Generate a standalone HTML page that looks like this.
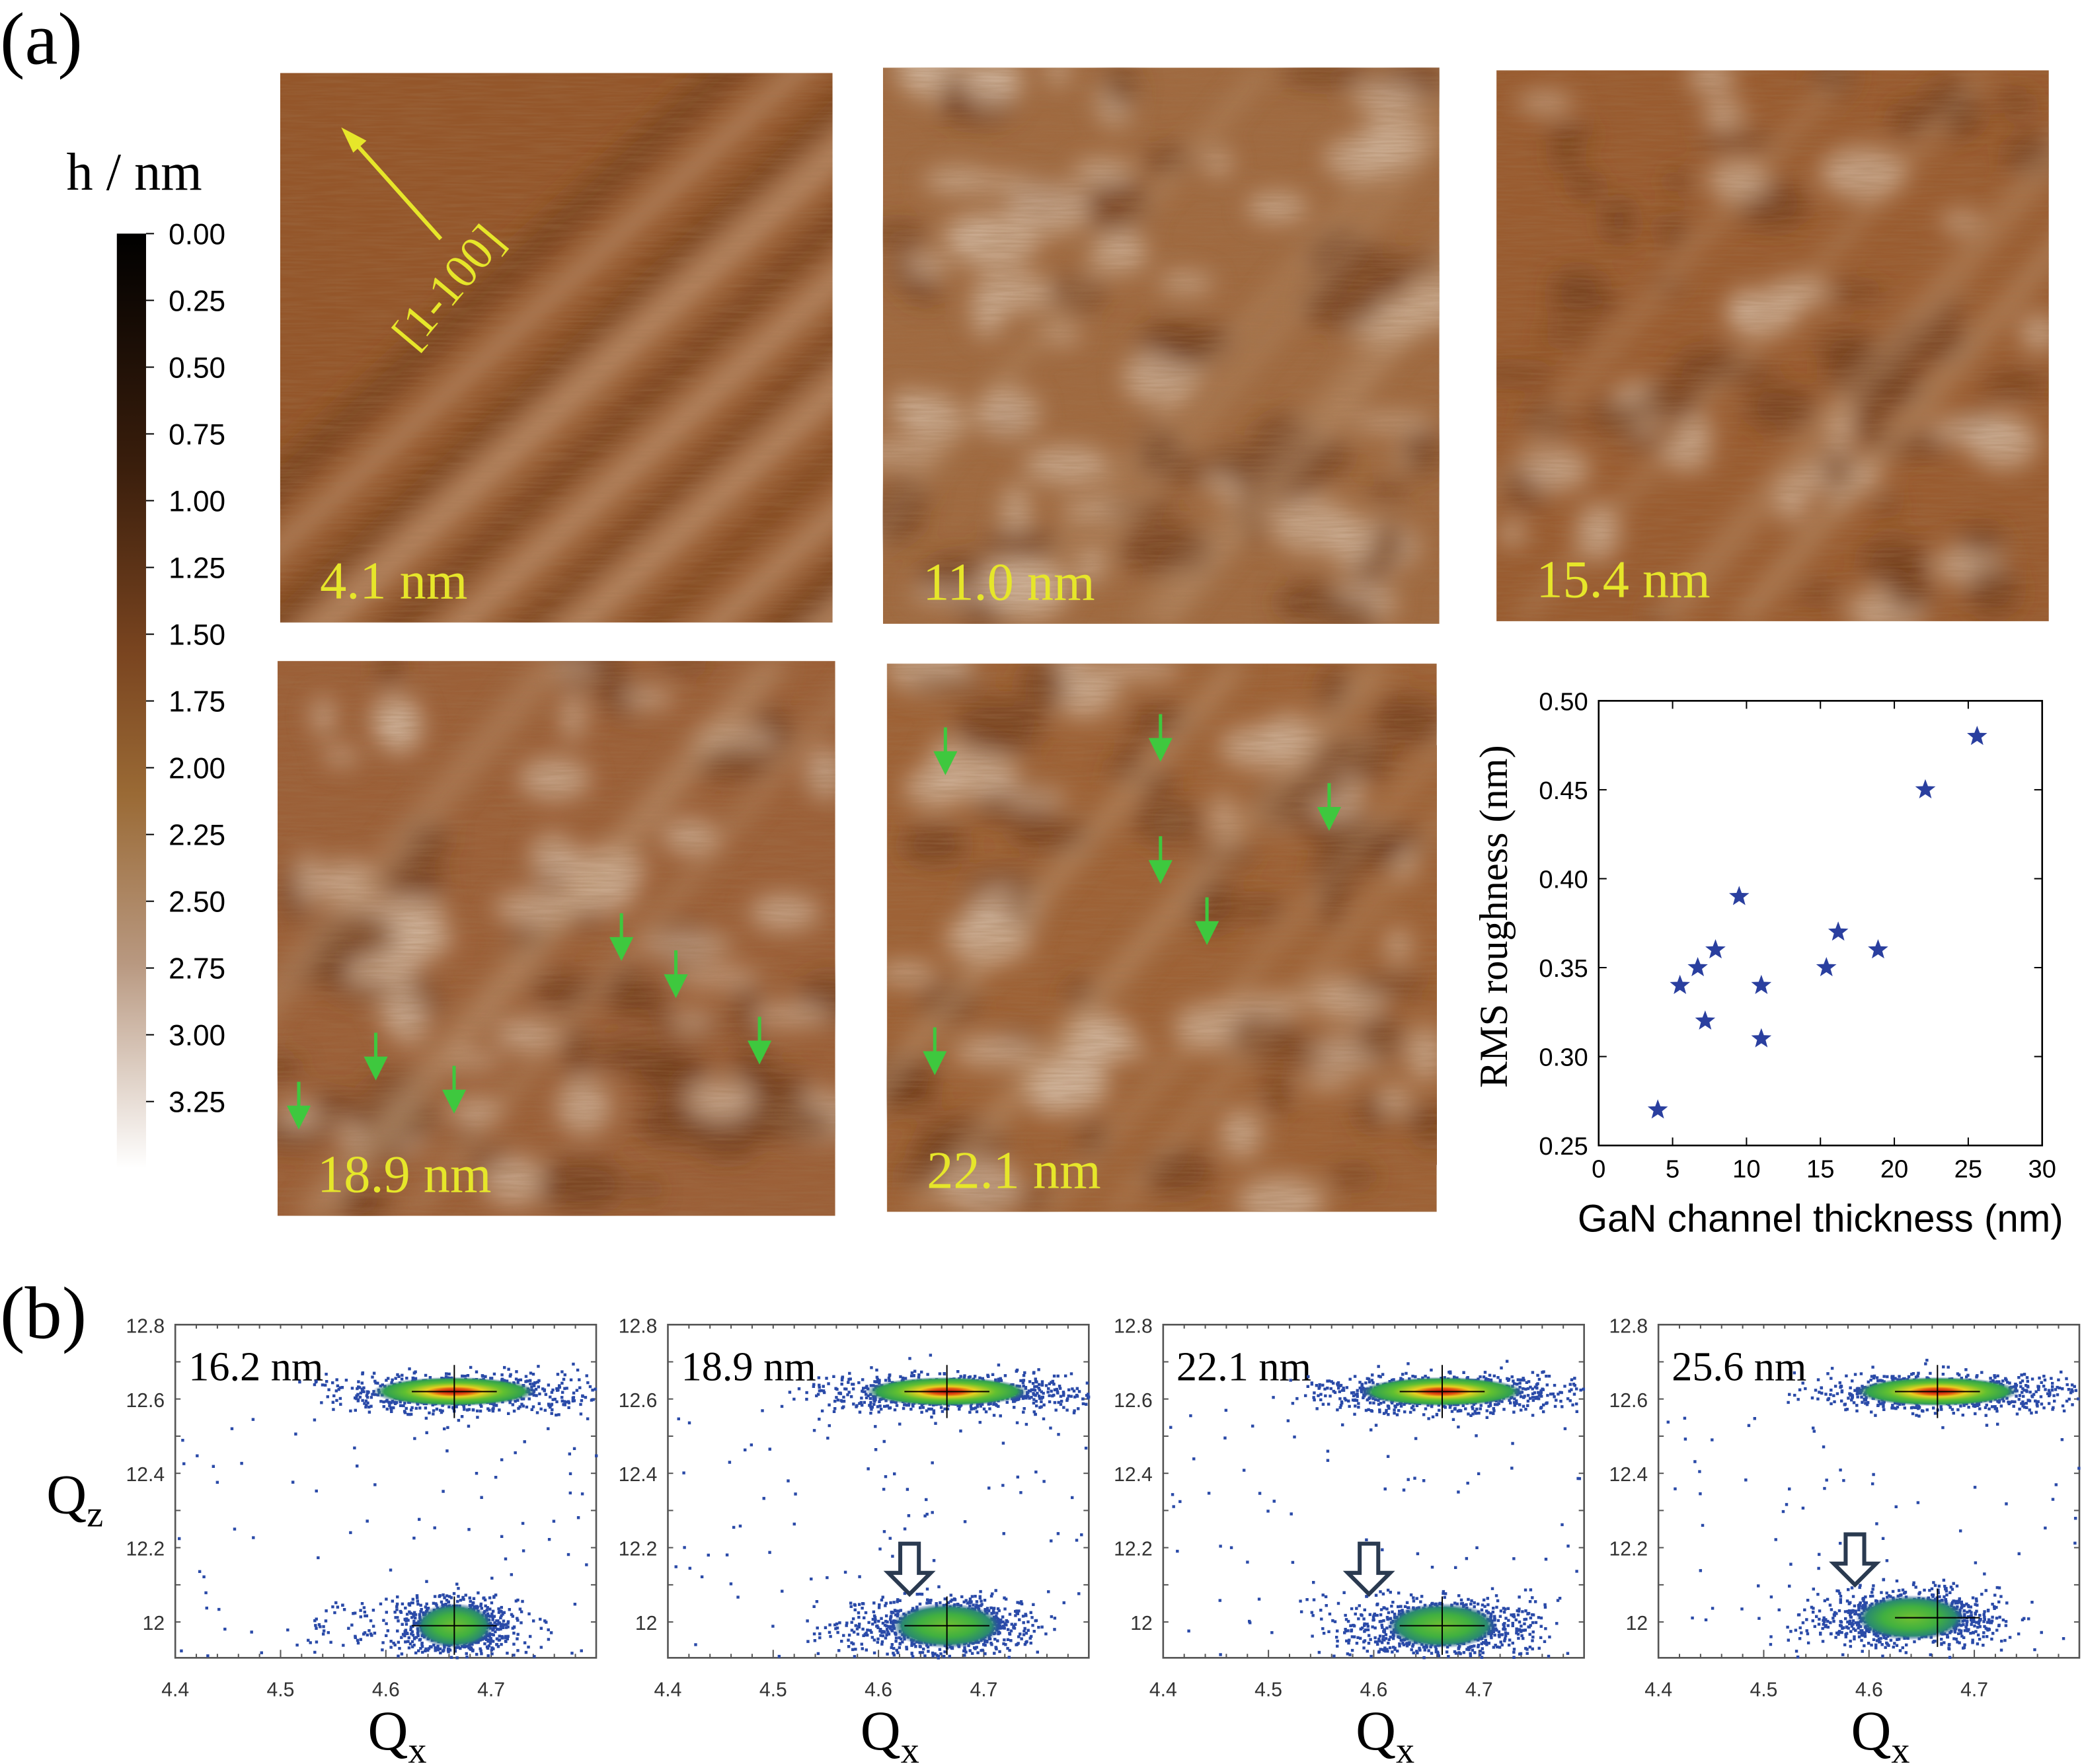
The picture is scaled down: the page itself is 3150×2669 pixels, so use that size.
<!DOCTYPE html>
<html><head><meta charset="utf-8"><style>
html,body{margin:0;padding:0;background:#fff}
svg{display:block}
.sf{font-family:"Liberation Serif",serif}
.ss{font-family:"Liberation Sans",sans-serif}
</style></head><body>
<svg id="s" width="3150" height="2669" viewBox="0 0 1568 1329" preserveAspectRatio="none" xmlns="http://www.w3.org/2000/svg">
<defs>
<linearGradient id="cb" x1="0" y1="0" x2="0" y2="1">
<stop offset="0" stop-color="#000"/><stop offset="0.25" stop-color="#3a1e0c"/><stop offset="0.45" stop-color="#7a4520"/><stop offset="0.6" stop-color="#9a6a35"/><stop offset="0.78" stop-color="#b89880"/><stop offset="1" stop-color="#fff"/>
</linearGradient>
<filter id="blur" x="-20%" y="-20%" width="140%" height="140%"><feGaussianBlur stdDeviation="9"/></filter>
<filter id="nz"><feTurbulence type="fractalNoise" baseFrequency="0.03 0.6" numOctaves="2" seed="3"/><feColorMatrix values="0 0 0 0 0.35  0 0 0 0 0.18  0 0 0 0 0.08  0 0 0 1.1 -0.35"/></filter>
<radialGradient id="pk" cx="0.5" cy="0.5" r="0.5">
<stop offset="0" stop-color="#c01010"/><stop offset="0.2" stop-color="#e05010"/><stop offset="0.35" stop-color="#e8d020"/><stop offset="0.6" stop-color="#60c030"/><stop offset="0.85" stop-color="#30a050"/><stop offset="1" stop-color="#3050a0" stop-opacity="0"/>
</radialGradient>
<radialGradient id="pk2" cx="0.5" cy="0.5" r="0.5">
<stop offset="0" stop-color="#70c030"/><stop offset="0.5" stop-color="#40b040"/><stop offset="0.8" stop-color="#2a8a70"/><stop offset="1" stop-color="#2040a0" stop-opacity="0"/>
</radialGradient>
<clipPath id="c1"><rect x="211" y="55" width="416" height="414"/></clipPath>
<clipPath id="c2"><rect x="665" y="51" width="419" height="419"/></clipPath>
<clipPath id="c3"><rect x="1127" y="53" width="416" height="415"/></clipPath>
<clipPath id="c4"><rect x="209" y="498" width="420" height="418"/></clipPath>
<clipPath id="c5"><rect x="668" y="500" width="414" height="413"/></clipPath>
</defs>
<g id="afm"></g>
<g id="rest"></g>
<text class="sf" x="0" y="48" font-size="56">(a)</text>
<text class="sf" x="0" y="1008" font-size="56">(b)</text>
<text class="sf" x="50" y="143" font-size="40">h / nm</text>
<rect x="88" y="176" width="22" height="704" fill="url(#cb)"/>
<g id="cbl" class="ss" font-size="22"></g>
</svg>
<script>
const S=document.getElementById('s'),NS='http://www.w3.org/2000/svg';
function el(t,a,p,txt){const e=document.createElementNS(NS,t);for(const k in a)e.setAttribute(k,a[k]);if(txt!=null)e.textContent=txt;(p||S).appendChild(e);return e;}
let seed=7;function R(){seed=(seed*16807)%2147483647;return seed/2147483647;}
function G(){return (R()+R()+R()-1.5)*1.4;}
const cbl=document.getElementById('cbl');
for(let i=0;i<14;i++){const y=176+i*50.3;el('line',{x1:110,y1:y,x2:116,y2:y,stroke:'#000','stroke-width':1},cbl);
el('text',{x:127,y:y+8},cbl,(i*0.25).toFixed(2));}
const A=document.getElementById('afm');
const P=[[211,55,416,414,'4.1 nm',1],[665,51,419,419,'11.0 nm',2],[1127,53,416,415,'15.4 nm',3],[209,498,420,418,'18.9 nm',4],[668,500,414,413,'22.1 nm',5]];
const bases=['#94562a','#a06a40','#9a5c30','#9c6038','#9e6236'];
P.forEach(([x,y,w,h,lab,n],i)=>{
 const g=el('g',{'clip-path':'url(#c'+n+')'},A);
 el('rect',{x,y,width:w,height:h,fill:bases[i]},g);
 const bg=el('g',{filter:'url(#blur)'},g);
 if(n==1){for(let k=0;k<14;k++){const o=k*48-160+R()*20;
   el('line',{x1:x+o,y1:y+h+40,x2:x+o+h*1.3,y2:y-40,stroke:k%2?'#c29a78':'#73401c','stroke-width':10+R()*16,opacity:0.75},bg);}}
 else{const nb=n==3?70:90;for(let k=0;k<nb;k++){const light=R()<(n==3?0.35:0.5);
   el('ellipse',{cx:x+R()*w,cy:y+R()*h,rx:8+R()*26,ry:6+R()*16,fill:light?'#d4baa4':'#6e3a18',opacity:0.7},bg);}
   for(let k=0;k<6;k++){const o=R()*w;el('line',{x1:x+o-150,y1:y+h,x2:x+o+200,y2:y,stroke:'#c8a888','stroke-width':8,opacity:0.45},bg);}}
 el('rect',{x,y,width:w,height:h,filter:'url(#nz)',opacity:0.55},g);
 el('text',{x:x+30,y:y+h-18,'font-size':40,fill:'#e6e62a','class':'sf'},S,lab);
});
el('line',{x1:332,y1:180,x2:265,y2:105,stroke:'#e6e62a','stroke-width':3});
el('polygon',{points:'257,96 276,106 266,115',fill:'#e6e62a'});
el('text',{x:0,y:0,'font-size':36,fill:'#e6e62a','class':'sf',transform:'translate(312,265) rotate(-50)'},S,'[1-100]');
const ga=[[225,815],[283,778],[342,803],[468,688],[509,716],[572,766],[712,548],[874,538],[1001,590],[874,630],[909,676],[704,774]];
ga.forEach(([x,y])=>{el('line',{x1:x,y1:y,x2:x,y2:y+26,stroke:'#3ec83e','stroke-width':2.5});el('polygon',{points:`${x-9},${y+18} ${x+9},${y+18} ${x},${y+36}`,fill:'#3ec83e'});});
const X0=1204,X1=1538,Y0=528,Y1=863;
el('rect',{x:X0,y:Y0,width:X1-X0,height:Y1-Y0,fill:'none',stroke:'#000','stroke-width':1.3});
const sx=t=>X0+t/30*(X1-X0),sy=v=>Y1-(v-0.25)/0.25*(Y1-Y0);
for(let t=0;t<=30;t+=5){el('line',{x1:sx(t),y1:Y1,x2:sx(t),y2:Y1-6,stroke:'#000'});el('line',{x1:sx(t),y1:Y0,x2:sx(t),y2:Y0+6,stroke:'#000'});
 el('text',{x:sx(t),y:Y1+24,'font-size':19,'text-anchor':'middle','class':'ss'},S,t);}
for(let v=0.25;v<0.501;v+=0.05){el('line',{x1:X0,y1:sy(v),x2:X0+6,y2:sy(v),stroke:'#000'});el('line',{x1:X1,y1:sy(v),x2:X1-6,y2:sy(v),stroke:'#000'});
 el('text',{x:X0-8,y:sy(v)+7,'font-size':19,'text-anchor':'end','class':'ss'},S,v.toFixed(2));}
el('text',{x:0,y:0,'font-size':30,'text-anchor':'middle','class':'sf',transform:`translate(1135,${(Y0+Y1)/2-5}) rotate(-90)`},S,'RMS roughness  (nm)');
el('text',{x:1371,y:928,'font-size':29,'text-anchor':'middle','class':'ss'},S,'GaN channel thickness  (nm)');
function star(cx,cy,r){let p=[];for(let k=0;k<10;k++){const a=-Math.PI/2+k*Math.PI/5,rr=k%2?r*0.42:r;p.push((cx+rr*Math.cos(a)).toFixed(1)+','+(cy+rr*Math.sin(a)).toFixed(1));}return p.join(' ');}
[[4,0.27],[5.5,0.34],[6.7,0.35],[7.2,0.32],[7.9,0.36],[9.5,0.39],[11,0.34],[11,0.31],[15.4,0.35],[16.2,0.37],[18.9,0.36],[22.1,0.45],[25.6,0.48]].forEach(([t,v])=>el('polygon',{points:star(sx(t),sy(v),8),fill:'#2a3f9f'}));
const rx=[132,503,876,1249],labs=['16.2 nm','18.9 nm','22.1 nm','25.6 nm'];
const qz0=el('text',{x:35,y:1140,'font-size':42,'class':'sf'},S,'Q');el('tspan',{'font-size':28,dy:10},qz0,'z');
rx.forEach((x0,i)=>{
 const w=317,yt=998,yb=1249,qx=q=>x0+(q-4.4)*793,qz=q=>1222-(q-12)*280;
 el('rect',{x:x0,y:yt,width:w,height:yb-yt,fill:'none',stroke:'#555','stroke-width':1.3});
 for(let q=4.4;q<4.81;q+=0.02){const px=qx(q);if(px>x0+w)break;el('line',{x1:px,y1:yb,x2:px,y2:yb-(Math.round(q*100)%10==0?6:3),stroke:'#555'});el('line',{x1:px,y1:yt,x2:px,y2:yt+3,stroke:'#555'});}
 [4.4,4.5,4.6,4.7].forEach(q=>el('text',{x:qx(q),y:1278,'font-size':15,'text-anchor':'middle','class':'ss',fill:'#333'},S,q.toFixed(1)));
 for(let q=12;q<12.81;q+=0.1){const py=qz(q);el('line',{x1:x0,y1:py,x2:x0+4,y2:py,stroke:'#555'});el('line',{x1:x0+w,y1:py,x2:x0+w-4,y2:py,stroke:'#555'});}
 [12,12.2,12.4,12.6,12.8].forEach(q=>el('text',{x:x0-8,y:qz(q)+6,'font-size':15,'text-anchor':'end','class':'ss',fill:'#333'},S,q==12?'12':q.toFixed(1)));
 el('text',{x:x0+10,y:1040,'font-size':31,'class':'sf'},S,labs[i]);
 const q1=el('text',{x:x0+145,y:1318,'font-size':42,'class':'sf'},S,'Q');el('tspan',{'font-size':28,dy:10},q1,'x');
 const cx=qx(4.665),ty=qz(12.62),by=qz(11.99)+(i==3?-6:0),bcx=cx-(i==3?20:0);
 let d='';
 const dot=(x,y)=>{if(x>x0+1&&x<x0+w-1&&y>yt+1&&y<yb-1)d+=`M${x.toFixed(1)} ${y.toFixed(1)}h2.2v2.2h-2.2z`;};
 for(let k=0;k<700;k++)dot(cx+G()*65,ty+G()*10);
 for(let k=0;k<90;k++)dot(cx+(R()-0.3)*200,ty+G()*16);
 const bs=i==0?30:45;
 for(let k=0;k<800;k++)dot(bcx+G()*bs,by+G()*15);
 for(let k=0;k<120;k++)dot(bcx+(R()-0.6)*180,by+G()*16);
 for(let k=0;k<90;k++){dot(x0+R()*w,yt+60+R()*190);}
 el('path',{d,fill:'#2a4aa8'});
 el('ellipse',{cx,cy:ty,rx:62,ry:11,fill:'url(#pk)'});
 el('ellipse',{cx:bcx,cy:by,rx:i==0?30:42,ry:17,fill:'url(#pk2)'});
 el('line',{x1:cx,y1:ty-20,x2:cx,y2:ty+20,stroke:'#000'});el('line',{x1:cx-32,y1:ty,x2:cx+32,y2:ty,stroke:'#000'});
 el('line',{x1:cx,y1:by-22,x2:cx,y2:by+22,stroke:'#000'});el('line',{x1:cx-32,y1:by,x2:cx+32,y2:by,stroke:'#000'});
 if(i>0){const ax=[0,685,1031,1397][i],ay=[0,1163,1163,1156][i];
  el('polygon',{points:`${ax-7},${ay} ${ax+7},${ay} ${ax+7},${ay+22} ${ax+16},${ay+22} ${ax},${ay+38} ${ax-16},${ay+22} ${ax-7},${ay+22}`,fill:'#fff',stroke:'#2a3a50','stroke-width':3});}
});
</script>
</body></html>
